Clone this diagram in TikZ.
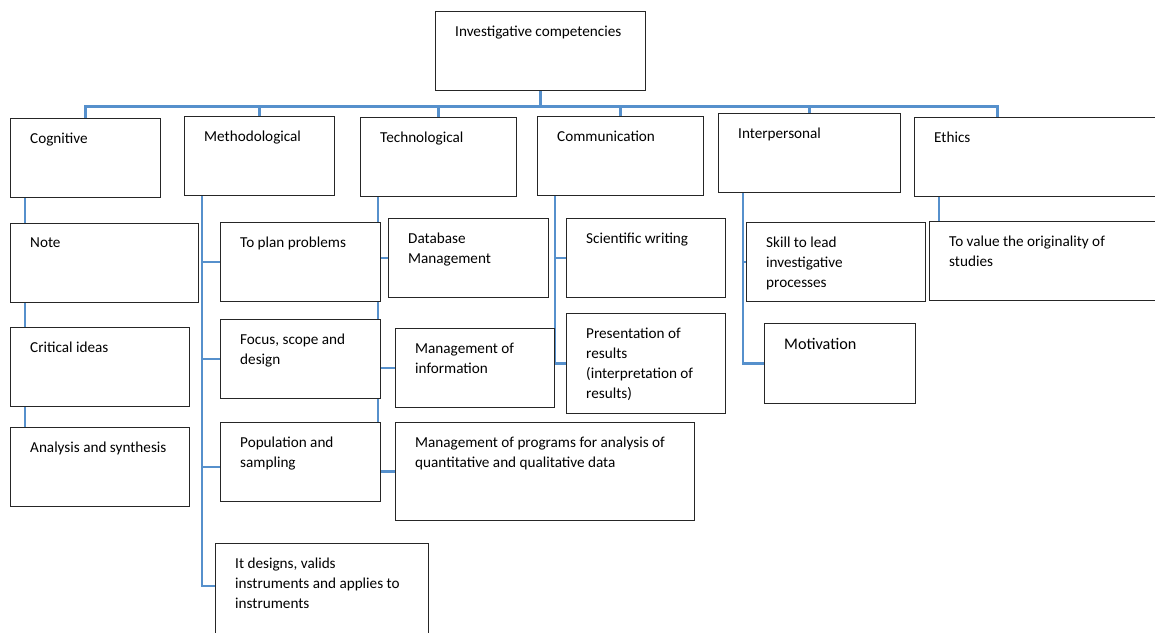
\documentclass[tikz,border=0pt]{standalone}
\usepackage{fontspec}
\setmainfont{Carlito}
\usepackage{xcolor}
\usepackage{tikz}
\usetikzlibrary{positioning,calc,backgrounds}
\definecolor{linkBlue}{RGB}{86,144,204}

\begin{document}
\begin{tikzpicture}[x=1pt,y=-1pt,
          caja/.style={draw=black!85,fill=white,line width=1.2pt,
                       anchor=north west,inner sep=0pt},
          txt/.style={anchor=north west,align=left,inner xsep=20pt,
                      inner ysep=15pt,font=\fontsize{15.2}{20}\selectfont},
          link/.style={draw=linkBlue,line width=2.6pt}]
          \useasboundingbox (0,0) rectangle (1155,632);
          \clip (0,0) rectangle (1155,632);
          % top and first level
          \node[caja,minimum width=210pt,minimum height=79pt,
                label={[txt]north west:Investigative competencies}](root) at (435,11){};
          \node[caja,minimum width=150pt,minimum height=79pt,
                label={[txt]north west:Cognitive}](cog) at (10,118){};
          \node[caja,minimum width=150pt,minimum height=79pt,
                label={[txt]north west:Methodological}](met) at (184,116){};
          \node[caja,minimum width=156pt,minimum height=79pt,
                label={[txt]north west:Technological}](tec) at (360,117){};
          \node[caja,minimum width=166pt,minimum height=79pt,
                label={[txt]north west:Communication}](com) at (537,116){};
          \node[caja,minimum width=182pt,minimum height=79pt,
                label={[txt]north west:Interpersonal}](int) at (718,113){};
          \node[caja,minimum width=250pt,minimum height=79pt,
                label={[txt]north west:Ethics}](eth) at (914,117){};
          % cognitive
          \node[caja,minimum width=188pt,minimum height=79pt,
                label={[txt]north west:Note}](not) at (10,223){};
          \node[caja,minimum width=179pt,minimum height=79pt,
                label={[txt]north west:Critical ideas}](cri) at (10,327){};
          \node[caja,minimum width=179pt,minimum height=79pt,
                label={[txt]north west:Analysis and synthesis}](ana) at (10,427){};
          % methodological
          \node[caja,minimum width=160pt,minimum height=79pt,
                label={[txt]north west:To plan problems}](pla) at (220,222){};
          \node[caja,minimum width=160pt,minimum height=79pt,
                label={[txt]north west:Focus, scope and\\design}](foc) at (220,319){};
          \node[caja,minimum width=160pt,minimum height=79pt,
                label={[txt]north west:Population and\\sampling}](pob) at (220,422){};
          \node[caja,minimum width=213pt,minimum height=100pt,
                label={[txt]north west:It designs, valids\\instruments and applies to\\instruments}](dis) at (215,543){};
          % technological
          \node[caja,minimum width=160pt,minimum height=79pt,
                label={[txt]north west:Database\\Management}](dat) at (388,218){};
          \node[caja,minimum width=159pt,minimum height=79pt,
                label={[txt]north west:Management of\\information}](inf) at (395,328){};
          \node[caja,minimum width=299pt,minimum height=98pt,
                label={[txt]north west:Management of programs for analysis of\\quantitative and qualitative data}](pro) at (395,422){};
          % communication
          \node[caja,minimum width=159pt,minimum height=79pt,
                label={[txt]north west:Scientific writing}](sci) at (566,218){};
          \node[caja,minimum width=159pt,minimum height=100pt,
                label={[txt]north west:Presentation of\\results\\(interpretation of\\results)}](pre) at (566,313){};
          % interpersonal
          \node[caja,minimum width=179pt,minimum height=79pt,
                label={[txt]north west:Skill to lead\\investigative\\processes}](hab) at (746,222){};
          \node[caja,minimum width=151pt,minimum height=80pt,
                label={[txt,font=\fontsize{16.2}{20}\selectfont]north west:Motivation}](mot) at (764,323){};
          % ethics
          \node[caja,minimum width=235pt,minimum height=79pt,
                label={[txt]north west:To value the originality of\\studies}](val) at (929,221){};
          \begin{scope}[on background layer]
            \foreach \n in {cog,met,tec,com,int}
              \draw[link] (root.south) -- ++(0,15) -| (\n.north);
            \draw[link] (root.south) -- ++(0,15) -| ([xshift=-42pt]eth.north);
            \draw[link] ([xshift=15pt]cog.south west) -- ([xshift=15pt]ana.north west);
            \foreach \n in {pla,foc}
              \draw[link] ([xshift=18pt]met.south west) |- (\n.west);
            \draw[link] ([xshift=18pt]met.south west) |- ([yshift=-45pt]pob.north west);
            \draw[link] ([xshift=18pt]met.south west) |- ([yshift=-43pt]dis.north west);
            \foreach \n in {dat,inf,pro}
              \draw[link] ([xshift=18pt]tec.south west) |- (\n.west);
            \foreach \n in {sci,pre}
              \draw[link] ([xshift=18pt]com.south west) |- (\n.west);
            \foreach \n in {hab,mot}
              \draw[link] ([xshift=25pt]int.south west) |- (\n.west);
            \draw[link] ([xshift=25pt]eth.south west) -- ([xshift=25pt]eth.south west |- val.north);
          \end{scope}
        \end{tikzpicture}
\end{document}
